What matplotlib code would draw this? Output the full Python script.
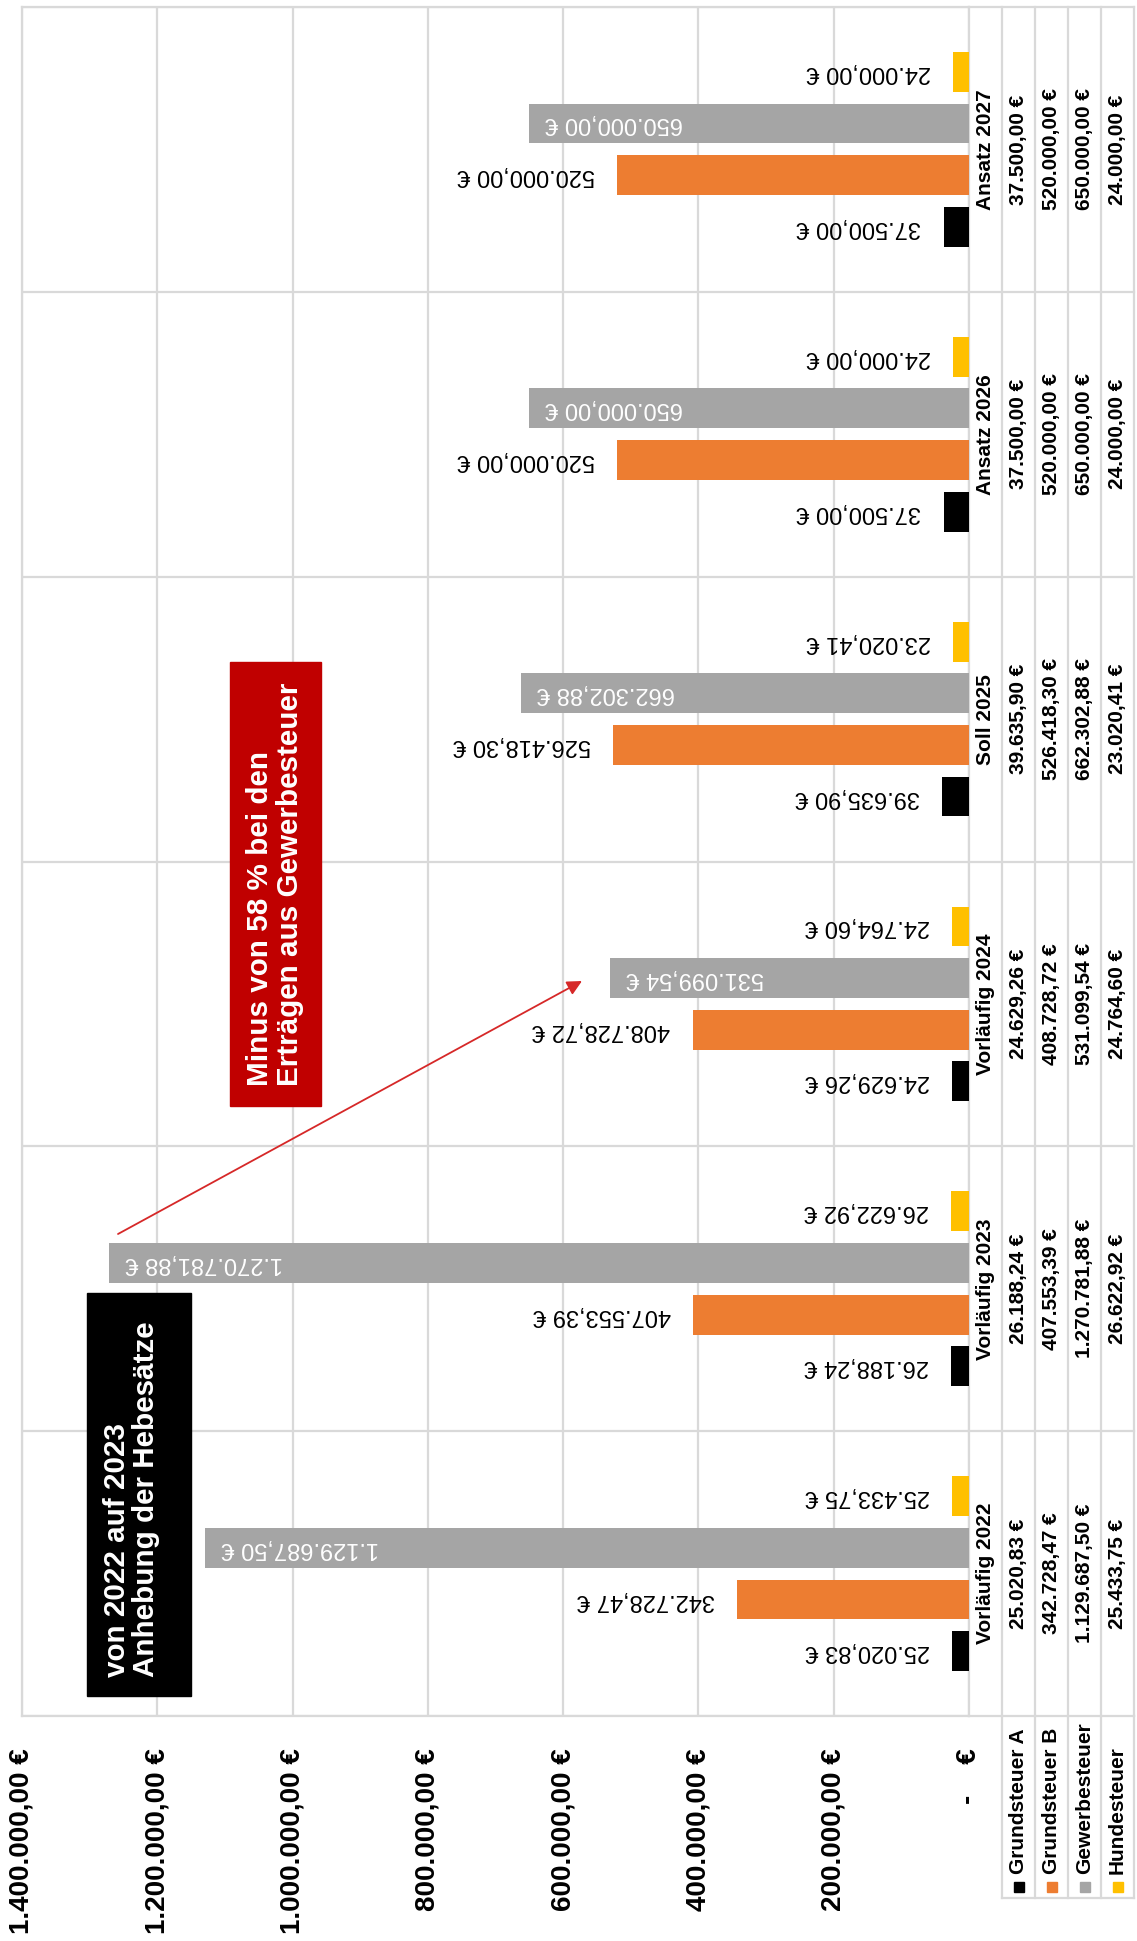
import numpy as np
import matplotlib
matplotlib.use("Agg")
import matplotlib.pyplot as plt
from matplotlib.patches import Rectangle

plt.rcParams['font.family'] = ['Liberation Sans', 'DejaVu Sans']

# data
categories = ['Vorläufig 2022', 'Vorläufig 2023', 'Vorläufig 2024',
              'Soll 2025', 'Ansatz 2026', 'Ansatz 2027']
series_names = ['Grundsteuer A', 'Grundsteuer B', 'Gewerbesteuer', 'Hundesteuer']
grundsteuer_a = [25020.83, 26188.24, 24629.26, 39635.90, 37500.00, 37500.00]
grundsteuer_b = [342728.47, 407553.39, 408728.72, 526418.30, 520000.00, 520000.00]
gewerbesteuer = [1129687.50, 1270781.88, 531099.54, 662302.88, 650000.00, 650000.00]
hundesteuer = [25433.75, 26622.92, 24764.60, 23020.41, 24000.00, 24000.00]
tick_values = [0, 200000, 400000, 600000, 800000, 1000000, 1200000, 1400000]

colors = ['#000000', '#ED7D31', '#A5A5A5', '#FFC000']
grid_col = '#D9D9D9'
lw = 1.6


def eur(v):
    s = f'{v:,.2f}'.replace(',', 'X').replace('.', ',').replace('X', '.')
    return s + ' €'


def eur_tick(v):
    if v == 0:
        return '-    €'
    return eur(v)


W, H = 1137, 1941
fig = plt.figure(figsize=(W / 100, H / 100), dpi=100)


def box(l, t, r, b):
    return [l / W, 1 - b / H, (r - l) / W, (b - t) / H]


ax = fig.add_axes(box(22, 7, 969, 1716))
tab = fig.add_axes(box(969, 7, 1134, 1716))
leg = fig.add_axes(box(969, 1716, 1134, 1898))

# bars, chart is turned on its side: value axis runs right to left
series = [grundsteuer_a, grundsteuer_b, gewerbesteuer, hundesteuer]
y = np.arange(len(categories))
offsets = [-0.272, -0.091, 0.091, 0.272]
for vals, off, col, name in zip(series, offsets, colors, series_names):
    ax.barh(y + off, vals, height=0.14, color=col, zorder=3)
    for v, yy in zip(vals, y + off):
        if name == 'Gewerbesteuer':
            ax.annotate(eur(v), (v, yy), xytext=(11.5, 0), textcoords='offset points',
                        rotation=180, ha='left', va='center', color='white',
                        fontsize=17, zorder=4)
        else:
            ax.annotate(eur(v), (v, yy), xytext=(-16, 0), textcoords='offset points',
                        rotation=180, ha='right', va='center', color='black',
                        fontsize=17, zorder=4)

ax.set_xlim(1400000, 0)
ax.set_ylim(-0.5, 5.5)
ax.set_xticks(tick_values)
ax.set_xticklabels([eur_tick(t) for t in tick_values], rotation=90,
                   fontsize=20, fontweight='bold')
ax.tick_params(axis='x', length=0, pad=23)
ax.set_yticks([])
ax.set_yticks(np.arange(-0.5, 6), minor=True)
ax.tick_params(axis='y', which='both', length=0, labelleft=False)
ax.grid(axis='x', color=grid_col, lw=lw)
ax.grid(axis='y', which='minor', color=grid_col, lw=lw)
ax.set_axisbelow(True)
for s in ax.spines.values():
    s.set_color(grid_col)
    s.set_linewidth(lw)

# data table on the right
tab.set_xlim(0, 5)
tab.set_ylim(-0.5, 5.5)
tab.axis('off')
for c in range(1, 6):
    tab.axvline(c, color=grid_col, lw=lw, clip_on=False)
for b in np.arange(-0.5, 6):
    tab.axhline(b, color=grid_col, lw=lw, clip_on=False)
for i, cat in enumerate(categories):
    tab.text(0.5, i, cat, rotation=90, ha='center', va='center',
             fontsize=15, fontweight='bold')
    for c, vals in enumerate(series, start=1):
        tab.text(c + 0.5, i, eur(vals[i]), rotation=90, ha='center', va='center',
                 fontsize=15, fontweight='bold')

# legend keys under the table
leg.set_xlim(0, 5)
leg.set_ylim(0, 1)
leg.axis('off')
for c in range(1, 6):
    leg.axvline(c, color=grid_col, lw=lw, clip_on=False)
leg.plot([1, 5], [0, 0], color=grid_col, lw=lw, clip_on=False)
for c, (name, col) in enumerate(zip(series_names, colors), start=1):
    leg.plot(c + 0.5, 0.06, marker='s', ms=7.2, color=col, clip_on=False)
    leg.text(c + 0.5, 0.13, name, rotation=90, ha='center', va='bottom',
             fontsize=15, fontweight='bold')

# callouts
ov = fig.add_axes([0, 0, 1, 1])
ov.set_xlim(0, W)
ov.set_ylim(H, 0)
ov.axis('off')
ov.patch.set_alpha(0)
ov.add_patch(Rectangle((87, 1293), 104, 403, color='black'))
ov.text(131.5, 1677, 'von 2022 auf 2023\nAnhebung der Hebesätze', rotation=90,
        ha='center', va='bottom', color='white', fontsize=21.3, fontweight='bold',
        linespacing=1.08, multialignment='left')
ov.add_patch(Rectangle((230, 662), 91, 444, color='#C00000'))
ov.text(275, 1086, 'Minus von 58 % bei den\nErträgen aus Gewerbesteuer', rotation=90,
        ha='center', va='bottom', color='white', fontsize=21.3, fontweight='bold',
        linespacing=1.08, multialignment='left')
ov.annotate('', xy=(582, 981), xytext=(118, 1234),
            arrowprops=dict(arrowstyle='-|>', color='#D62828', lw=1.3,
                            mutation_scale=22, shrinkA=0, shrinkB=0))

fig.savefig('out.png', dpi=100, facecolor='white')
